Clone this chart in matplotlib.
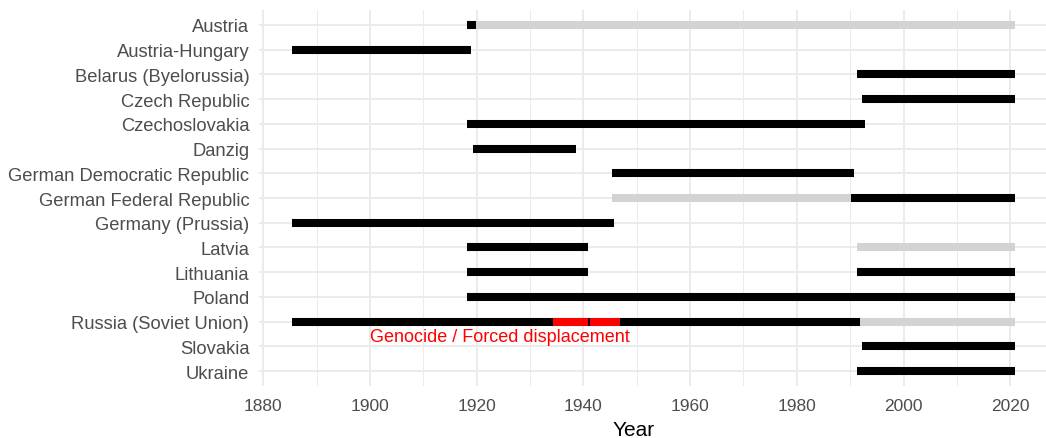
import matplotlib as mpl
mpl.use('Agg')
import matplotlib.pyplot as plt

mpl.rc('font', family=['Liberation Sans', 'DejaVu Sans'])

# countries, top to bottom
countries = ['Austria', 'Austria-Hungary', 'Belarus (Byelorussia)', 'Czech Republic',
             'Czechoslovakia', 'Danzig', 'German Democratic Republic',
             'German Federal Republic', 'Germany (Prussia)', 'Latvia', 'Lithuania',
             'Poland', 'Russia (Soviet Union)', 'Slovakia', 'Ukraine']

# one entry per segment
seg_country = ['Austria', 'Austria', 'Austria-Hungary', 'Belarus (Byelorussia)',
               'Czech Republic', 'Czechoslovakia', 'Danzig',
               'German Democratic Republic', 'German Federal Republic',
               'German Federal Republic', 'Germany (Prussia)', 'Latvia', 'Latvia',
               'Lithuania', 'Lithuania', 'Poland', 'Russia (Soviet Union)',
               'Russia (Soviet Union)', 'Russia (Soviet Union)',
               'Russia (Soviet Union)', 'Slovakia', 'Ukraine']
seg_start = [1918.2, 1919.8, 1885.3, 1991.3, 1992.3, 1918.2, 1919.3, 1945.3,
             1945.3, 1990.2, 1885.3, 1918.2, 1991.3, 1918.2, 1991.3, 1918.2,
             1885.3, 1991.8, 1934.3, 1941.3, 1992.3, 1991.3]
seg_end = [1919.8, 2020.8, 1918.9, 2020.8, 2020.8, 1992.8, 1938.7, 1990.8,
           1990.2, 2020.8, 1945.8, 1940.8, 2020.8, 1940.8, 2020.8, 2020.8,
           1991.8, 2020.8, 1940.8, 1946.9, 2020.8, 2020.8]
seg_status = ['sovereign', 'other', 'sovereign', 'sovereign', 'sovereign',
              'sovereign', 'sovereign', 'sovereign', 'other', 'sovereign',
              'sovereign', 'sovereign', 'other', 'sovereign', 'sovereign',
              'sovereign', 'sovereign', 'other', 'genocide', 'genocide',
              'sovereign', 'sovereign']

annotation = 'Genocide / Forced displacement'
annotation_year = 1900

status_colors = {'sovereign': 'black', 'other': '#D3D3D3', 'genocide': '#FF0000'}
grid_col = '#EBEBEB'
text_col = '#4D4D4D'


def main():
    W, H = 1046, 439
    fig = plt.figure(figsize=(W / 100., H / 100.), dpi=100)
    ax = fig.add_axes([259. / W, 1 - 387. / H, (1046. - 259.) / W, (387. - 11.) / H])

    ypos = {c: i for i, c in enumerate(countries)}
    for status in ['other', 'sovereign', 'genocide']:
        ys = [ypos[c] for c, s in zip(seg_country, seg_status) if s == status]
        x0 = [a for a, s in zip(seg_start, seg_status) if s == status]
        x1 = [b for b, s in zip(seg_end, seg_status) if s == status]
        ax.hlines(ys, x0, x1, colors=status_colors[status], linewidth=5.8,
                  capstyle='butt', zorder=3)

    ax.text(annotation_year, ypos['Russia (Soviet Union)'] + 0.6, annotation,
            color='#FF0000', fontsize=13, ha='left', va='center', zorder=4)

    ax.set_xlim(1879.2, 2026.7)
    ax.set_ylim(len(countries) - 0.4, -0.6)
    ax.set_yticks(range(len(countries)))
    ax.set_yticklabels(countries)
    ax.set_xticks(range(1880, 2021, 20))
    ax.set_xticks(range(1890, 2020, 20), minor=True)
    ax.grid(True, which='major', color=grid_col, linewidth=1.4, zorder=0)
    ax.grid(True, which='minor', axis='x', color=grid_col, linewidth=0.7, zorder=0)
    ax.tick_params(which='both', length=0)
    ax.tick_params(axis='y', labelsize=13.2, labelcolor=text_col, pad=7)
    ax.tick_params(axis='x', labelsize=12.5, labelcolor=text_col, pad=9)
    for s in ax.spines.values():
        s.set_visible(False)
    ax.set_axisbelow(True)

    fig.text(634. / W, 1 - 431. / H, 'Year', fontsize=15, ha='center', va='center')

    fig.savefig('out.png', dpi=100)


if __name__ == '__main__':
    main()
